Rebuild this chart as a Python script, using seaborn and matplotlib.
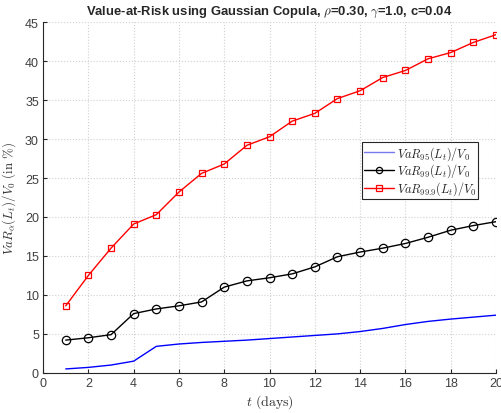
import matplotlib
matplotlib.use("Agg")
import matplotlib.pyplot as plt
import seaborn as sns
import pandas as pd
import numpy as np

t = list(range(1, 21))
var95 = [0.5, 0.7, 1.0, 1.5, 3.4, 3.7, 3.9, 4.05, 4.2, 4.4, 4.6, 4.8, 5.0, 5.3, 5.7, 6.2, 6.6, 6.9, 7.15, 7.4]
var99 = [4.2, 4.5, 4.9, 7.6, 8.2, 8.6, 9.1, 11.0, 11.8, 12.2, 12.7, 13.6, 14.9, 15.5, 16.0, 16.6, 17.4, 18.3, 18.9, 19.4]
var999 = [8.6, 12.5, 16.0, 19.1, 20.3, 23.2, 25.6, 26.8, 29.2, 30.3, 32.3, 33.3, 35.2, 36.2, 37.9, 38.8, 40.3, 41.1, 42.4, 43.4]
labels = [r'$VaR_{95}(L_t)/V_0$', r'$VaR_{99}(L_t)/V_0$', r'$VaR_{99.9}(L_t)/V_0$']

sns.set_style("white")
plt.rcParams['font.family'] = ['Liberation Sans', 'DejaVu Sans']
plt.rcParams['mathtext.fontset'] = 'cm'

fig = plt.figure(figsize=(5.01, 4.14), dpi=100)
ax = fig.add_axes([0.086, 0.097, 0.904, 0.847])

sns.lineplot(x=t, y=var95, ax=ax, color='#0000ff', lw=1.0, label=labels[0])
sns.lineplot(x=t, y=var99, ax=ax, color='black', lw=1.0, marker='o', markersize=6,
             markerfacecolor='none', markeredgecolor='black', markeredgewidth=0.9, label=labels[1])
sns.lineplot(x=t, y=var999, ax=ax, color='#ff0000', lw=1.0, marker='s', markersize=5,
             markerfacecolor='none', markeredgecolor='#ff0000', markeredgewidth=0.9, label=labels[2])

ax.set_xlim(0, 20)
ax.set_ylim(0, 45)
ax.set_xticks(range(0, 21, 2))
ax.set_yticks(range(0, 46, 5))
ax.grid(True, linestyle=':', color='#d0d0d0', lw=0.8)
for s in ['top', 'right']:
    ax.spines[s].set_visible(False)
for s in ['left', 'bottom']:
    ax.spines[s].set_color('#262626')
    ax.spines[s].set_linewidth(0.8)
ax.tick_params(axis='both', direction='in', length=3, labelsize=9, labelcolor='#404040',
               color='#262626', left=True, bottom=True, pad=3)

ax.set_xlabel(r'$t\ \mathrm{(days)}$', fontsize=10, color='#333333', labelpad=2)
ax.set_ylabel(r'$VaR_\alpha(L_t)/V_0\ \mathrm{(in\ \%)}$', fontsize=9.3, color='#333333', labelpad=5)
ax.set_title(r'Value-at-Risk using Gaussian Copula, $\rho$=0.30, $\gamma$=1.0, c=0.04',
             fontsize=9.4, fontweight='bold', pad=6)

leg = ax.legend(loc='upper left', bbox_to_anchor=(0.704, 0.658), fontsize=8.8,
                frameon=True, fancybox=False, edgecolor='#262626', framealpha=1,
                borderpad=0.15, labelspacing=0.0, handlelength=2.5, handletextpad=0.2,
                borderaxespad=0, markerscale=0.75)
leg.get_frame().set_linewidth(0.8)
leg.get_lines()[0].set_color('#7777ee')

fig.savefig('out.png', dpi=100)
